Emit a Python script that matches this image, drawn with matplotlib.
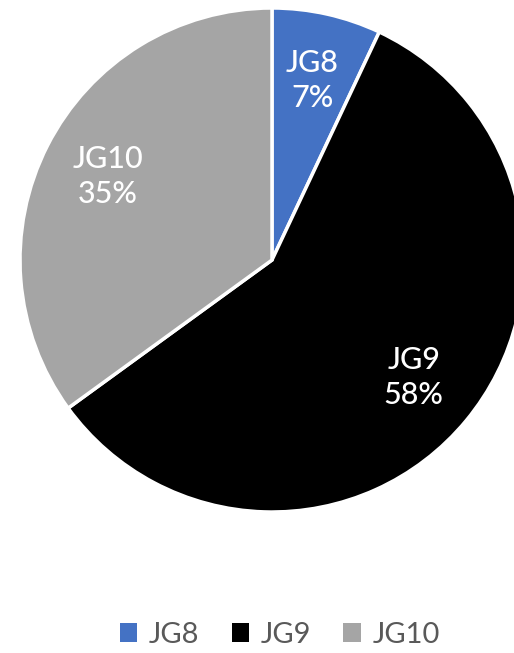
import matplotlib.pyplot as plt
from matplotlib.patches import Patch

groups = ['JG8', 'JG9', 'JG10']
shares = [7, 58, 35]
colors = ['#4472C4', '#000000', '#A5A5A5']

plt.rcParams['font.family'] = ['Lato', 'DejaVu Sans']

fig = plt.figure(figsize=(5.14, 6.53), dpi=100)
W, H = 514, 653
cx, cy, r = 272, 260, 252
ax = fig.add_axes([(cx - r) / W, (H - cy - r) / H, 2 * r / W, 2 * r / H])

wedges, _, autotexts = ax.pie(
    shares, colors=colors, startangle=90, counterclock=False,
    autopct=lambda p: '', pctdistance=0.73, radius=1,
    wedgeprops=dict(edgecolor='white', linewidth=2.5),
)
for t, g, v in zip(autotexts, groups, shares):
    t.set_text(f'{g}\n{v}%')
    t.set_color('white')
    t.set_fontsize(22)
    t.set_fontweight('medium')
    t.set_linespacing(1.3)
ax.set_xlim(-1, 1)
ax.set_ylim(-1, 1)
ax.set_aspect('equal')
ax.axis('off')

handles = [Patch(facecolor=c, edgecolor='none') for c in colors]
fig.legend(handles, groups, loc='center', bbox_to_anchor=(280 / W, 1 - 635 / H),
           ncol=3, frameon=False, fontsize=21, handlelength=0.6, handleheight=0.6,
           handletextpad=0.4, columnspacing=1.1, labelcolor='#595959')

fig.savefig('out.png', dpi=100)
